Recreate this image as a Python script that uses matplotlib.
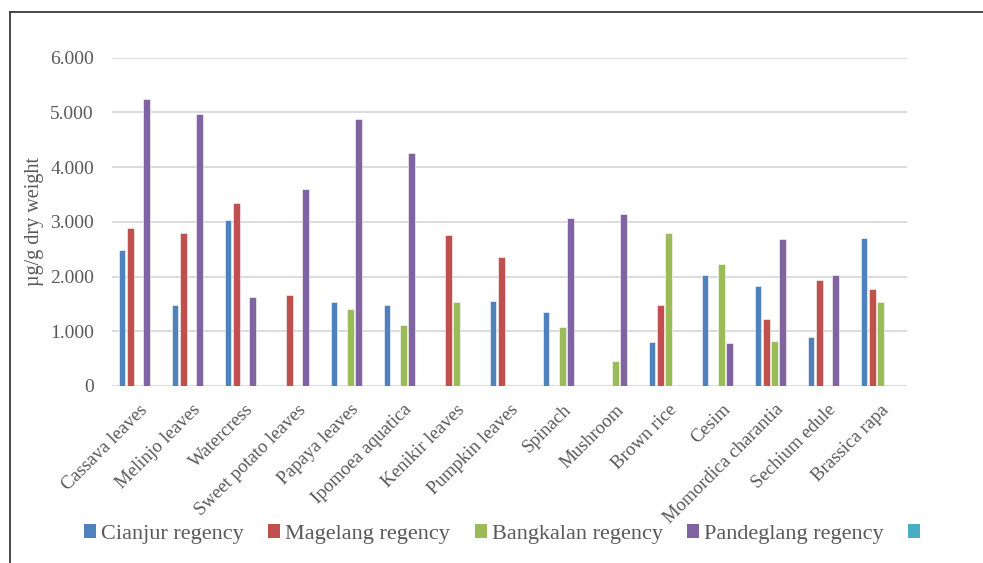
import matplotlib
matplotlib.use("Agg")
import matplotlib.pyplot as plt
from matplotlib.patches import Patch
from matplotlib.lines import Line2D
from matplotlib.ticker import FixedLocator, FuncFormatter
import numpy as np

plt.rcParams['font.family'] = ['Liberation Serif', 'DejaVu Serif']

categories = ["Cassava leaves", "Melinjo leaves", "Watercress", "Sweet potato leaves",
              "Papaya leaves", "Ipomoea aquatica", "Kenikir leaves", "Pumpkin leaves",
              "Spinach", "Mushroom", "Brown rice", "Cesim", "Momordica charantia",
              "Sechium edule", "Brassica rapa"]

cianjur    = [2.48, 1.48, 3.04, 0.00, 1.53, 1.48, 0.00, 1.56, 1.35, 0.00, 0.80, 2.03, 1.83, 0.89, 2.71]
magelang   = [2.88, 2.79, 3.35, 1.66, 0.00, 0.00, 2.76, 2.36, 0.00, 0.00, 1.48, 0.00, 1.22, 1.94, 1.77]
bangkalan  = [0.00, 0.00, 0.00, 0.00, 1.41, 1.11, 1.53, 0.00, 1.07, 0.45, 2.80, 2.22, 0.83, 0.00, 1.53]
pandeglang = [5.24, 4.97, 1.62, 3.59, 4.88, 4.25, 0.00, 0.00, 3.06, 3.15, 0.00, 0.78, 2.68, 2.02, 0.00]
unnamed    = [0.00] * len(categories)

series_labels = ["Cianjur regency", "Magelang regency", "Bangkalan regency", "Pandeglang regency", ""]
series_colors = ["#4F81BD", "#C0504D", "#9BBB59", "#8064A2", "#4BACC6"]
y_ticks = [0, 1, 2, 3, 4, 5, 6]

text_grey = "#595959"
W, H = 983, 563
fig = plt.figure(figsize=(W / 100, H / 100), dpi=100)
ax = fig.add_axes([112 / W, 1 - 386 / H, (907 - 112) / W, (386 - 57.5) / H])

series = [cianjur, magelang, bangkalan, pandeglang, unnamed]
x = np.arange(len(categories))
step = 0.155
width = 0.123
for i, (vals, col) in enumerate(zip(series, series_colors)):
    ax.bar(x + (i - 2) * step, vals, width=width, color=col,
           edgecolor="white", linewidth=0.4, zorder=3)

ax.set_xlim(-0.5, len(categories) - 0.5)
ax.set_ylim(0, 6)
ax.yaxis.set_major_locator(FixedLocator(y_ticks))
ax.yaxis.set_major_formatter(FuncFormatter(lambda v, p: "0" if v == 0 else f"{v:.3f}"))
ax.grid(axis="y", color="#d9d9d9", linewidth=1.3, zorder=0)
ax.set_axisbelow(True)
for s in ax.spines.values():
    s.set_visible(False)

ax.tick_params(axis="y", length=0, pad=13, labelsize=14, labelcolor=text_grey)
ax.tick_params(axis="x", length=0, pad=11, labelsize=13.5, labelcolor=text_grey)
ax.set_xticks(x)
ax.set_xticklabels(categories, rotation=45, ha="right", va="top", rotation_mode="anchor")

fig.text(35 / W, 1 - 222 / H, "µg/g dry weight", rotation=90, ha="center", va="center",
         fontsize=14.5, color=text_grey)

handles = [Patch(facecolor=c, edgecolor="none") for c in series_colors]
fig.legend(handles, series_labels, loc="center left", bbox_to_anchor=(84 / W, 1 - 534 / H),
           ncol=5, frameon=False, fontsize=16, labelcolor=text_grey,
           handlelength=0.54, handleheight=0.54, handletextpad=0.23,
           columnspacing=1.1, borderpad=0, borderaxespad=0)

# outer frame (top and left edges)
frame_col = "#3a3a3a"
fig.add_artist(Line2D([10 / W, 1], [1 - 12 / H, 1 - 12 / H], color=frame_col, linewidth=1.3))
fig.add_artist(Line2D([10 / W, 10 / W], [0, 1 - 12 / H], color=frame_col, linewidth=1.3))

fig.savefig("out.png", dpi=100)
